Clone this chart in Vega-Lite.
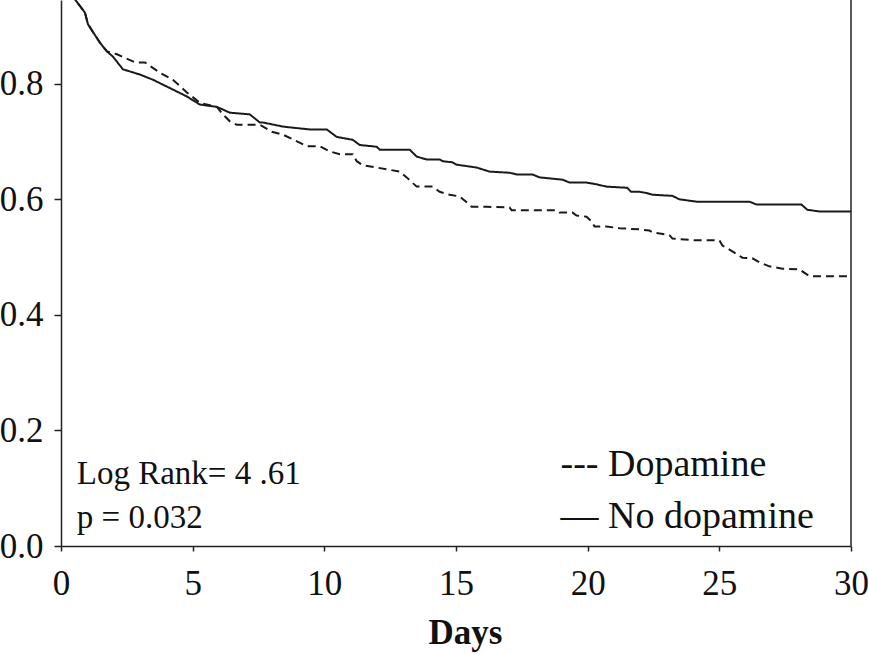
{
  "$schema": "https://vega.github.io/schema/vega-lite/v6.json",
  "autosize": "none",
  "width": 790,
  "height": 546,
  "padding": {"left": 61, "top": 0, "right": 18, "bottom": 108},
  "background": "white",
  "config": {
    "view": {"stroke": null},
    "font": "Liberation Serif"
  },
  "datasets": {
    "curves": [
      {"group": "No dopamine", "day": 0, "surv": 1.0},
      {"group": "No dopamine", "day": 0.531, "surv": 0.946},
      {"group": "No dopamine", "day": 0.911, "surv": 0.923},
      {"group": "No dopamine", "day": 1.024, "surv": 0.903},
      {"group": "No dopamine", "day": 1.48, "surv": 0.871},
      {"group": "No dopamine", "day": 1.745, "surv": 0.856},
      {"group": "No dopamine", "day": 1.973, "surv": 0.847},
      {"group": "No dopamine", "day": 2.352, "surv": 0.825},
      {"group": "No dopamine", "day": 2.997, "surv": 0.816},
      {"group": "No dopamine", "day": 3.491, "surv": 0.807},
      {"group": "No dopamine", "day": 4.249, "surv": 0.79},
      {"group": "No dopamine", "day": 4.78, "surv": 0.778},
      {"group": "No dopamine", "day": 5.274, "surv": 0.764},
      {"group": "No dopamine", "day": 5.919, "surv": 0.76},
      {"group": "No dopamine", "day": 6.412, "surv": 0.75},
      {"group": "No dopamine", "day": 7.171, "surv": 0.747},
      {"group": "No dopamine", "day": 7.551, "surv": 0.733},
      {"group": "No dopamine", "day": 7.664, "surv": 0.733},
      {"group": "No dopamine", "day": 8.423, "surv": 0.726},
      {"group": "No dopamine", "day": 8.802, "surv": 0.724},
      {"group": "No dopamine", "day": 9.447, "surv": 0.721},
      {"group": "No dopamine", "day": 10.092, "surv": 0.721},
      {"group": "No dopamine", "day": 10.472, "surv": 0.708},
      {"group": "No dopamine", "day": 11.079, "surv": 0.703},
      {"group": "No dopamine", "day": 11.344, "surv": 0.694},
      {"group": "No dopamine", "day": 11.989, "surv": 0.691},
      {"group": "No dopamine", "day": 12.103, "surv": 0.686},
      {"group": "No dopamine", "day": 13.241, "surv": 0.686},
      {"group": "No dopamine", "day": 13.507, "surv": 0.674},
      {"group": "No dopamine", "day": 13.886, "surv": 0.669},
      {"group": "No dopamine", "day": 14.379, "surv": 0.669},
      {"group": "No dopamine", "day": 14.493, "surv": 0.666},
      {"group": "No dopamine", "day": 14.873, "surv": 0.664},
      {"group": "No dopamine", "day": 15.024, "surv": 0.66},
      {"group": "No dopamine", "day": 15.783, "surv": 0.655},
      {"group": "No dopamine", "day": 16.276, "surv": 0.648},
      {"group": "No dopamine", "day": 17.035, "surv": 0.646},
      {"group": "No dopamine", "day": 17.301, "surv": 0.643},
      {"group": "No dopamine", "day": 17.908, "surv": 0.643},
      {"group": "No dopamine", "day": 18.173, "surv": 0.638},
      {"group": "No dopamine", "day": 19.046, "surv": 0.634},
      {"group": "No dopamine", "day": 19.312, "surv": 0.629},
      {"group": "No dopamine", "day": 19.957, "surv": 0.629},
      {"group": "No dopamine", "day": 20.336, "surv": 0.626},
      {"group": "No dopamine", "day": 20.716, "surv": 0.622},
      {"group": "No dopamine", "day": 21.5, "surv": 0.62},
      {"group": "No dopamine", "day": 21.65, "surv": 0.613},
      {"group": "No dopamine", "day": 21.968, "surv": 0.613},
      {"group": "No dopamine", "day": 22.233, "surv": 0.611},
      {"group": "No dopamine", "day": 22.461, "surv": 0.608},
      {"group": "No dopamine", "day": 23.22, "surv": 0.606},
      {"group": "No dopamine", "day": 23.485, "surv": 0.6},
      {"group": "No dopamine", "day": 24.13, "surv": 0.596},
      {"group": "No dopamine", "day": 26.141, "surv": 0.596},
      {"group": "No dopamine", "day": 26.407, "surv": 0.591},
      {"group": "No dopamine", "day": 28.114, "surv": 0.591},
      {"group": "No dopamine", "day": 28.342, "surv": 0.582},
      {"group": "No dopamine", "day": 28.797, "surv": 0.579},
      {"group": "No dopamine", "day": 30, "surv": 0.579},
      {"group": "Dopamine", "day": 0, "surv": 1.0},
      {"group": "Dopamine", "day": 0.531, "surv": 0.946},
      {"group": "Dopamine", "day": 0.911, "surv": 0.923},
      {"group": "Dopamine", "day": 1.024, "surv": 0.903},
      {"group": "Dopamine", "day": 1.48, "surv": 0.871},
      {"group": "Dopamine", "day": 1.745, "surv": 0.856},
      {"group": "Dopamine", "day": 2.125, "surv": 0.851},
      {"group": "Dopamine", "day": 2.808, "surv": 0.837},
      {"group": "Dopamine", "day": 3.187, "surv": 0.837},
      {"group": "Dopamine", "day": 3.756, "surv": 0.819},
      {"group": "Dopamine", "day": 4.249, "surv": 0.807},
      {"group": "Dopamine", "day": 4.78, "surv": 0.785},
      {"group": "Dopamine", "day": 5.274, "surv": 0.767},
      {"group": "Dopamine", "day": 5.919, "surv": 0.76},
      {"group": "Dopamine", "day": 6.146, "surv": 0.747},
      {"group": "Dopamine", "day": 6.412, "surv": 0.735},
      {"group": "Dopamine", "day": 6.678, "surv": 0.729},
      {"group": "Dopamine", "day": 7.551, "surv": 0.729},
      {"group": "Dopamine", "day": 8.005, "surv": 0.717},
      {"group": "Dopamine", "day": 8.423, "surv": 0.712},
      {"group": "Dopamine", "day": 8.802, "surv": 0.704},
      {"group": "Dopamine", "day": 9.333, "surv": 0.692},
      {"group": "Dopamine", "day": 9.826, "surv": 0.692},
      {"group": "Dopamine", "day": 10.206, "surv": 0.683},
      {"group": "Dopamine", "day": 10.585, "surv": 0.678},
      {"group": "Dopamine", "day": 11.079, "surv": 0.678},
      {"group": "Dopamine", "day": 11.23, "surv": 0.666},
      {"group": "Dopamine", "day": 11.458, "surv": 0.659},
      {"group": "Dopamine", "day": 11.989, "surv": 0.655},
      {"group": "Dopamine", "day": 12.369, "surv": 0.652},
      {"group": "Dopamine", "day": 12.862, "surv": 0.648},
      {"group": "Dopamine", "day": 13.127, "surv": 0.638},
      {"group": "Dopamine", "day": 13.507, "surv": 0.622},
      {"group": "Dopamine", "day": 14.114, "surv": 0.622},
      {"group": "Dopamine", "day": 14.379, "surv": 0.613},
      {"group": "Dopamine", "day": 14.759, "surv": 0.608},
      {"group": "Dopamine", "day": 15.138, "surv": 0.605},
      {"group": "Dopamine", "day": 15.404, "surv": 0.595},
      {"group": "Dopamine", "day": 15.593, "surv": 0.587},
      {"group": "Dopamine", "day": 16.163, "surv": 0.587},
      {"group": "Dopamine", "day": 17.035, "surv": 0.586},
      {"group": "Dopamine", "day": 17.111, "surv": 0.581},
      {"group": "Dopamine", "day": 18.818, "surv": 0.581},
      {"group": "Dopamine", "day": 18.932, "surv": 0.577},
      {"group": "Dopamine", "day": 19.425, "surv": 0.577},
      {"group": "Dopamine", "day": 19.577, "surv": 0.572},
      {"group": "Dopamine", "day": 19.957, "surv": 0.57},
      {"group": "Dopamine", "day": 20.146, "surv": 0.562},
      {"group": "Dopamine", "day": 20.26, "surv": 0.553},
      {"group": "Dopamine", "day": 20.716, "surv": 0.553},
      {"group": "Dopamine", "day": 21.209, "surv": 0.55},
      {"group": "Dopamine", "day": 21.968, "surv": 0.548},
      {"group": "Dopamine", "day": 22.347, "surv": 0.546},
      {"group": "Dopamine", "day": 22.461, "surv": 0.543},
      {"group": "Dopamine", "day": 23.106, "surv": 0.538},
      {"group": "Dopamine", "day": 23.22, "surv": 0.532},
      {"group": "Dopamine", "day": 24.13, "surv": 0.529},
      {"group": "Dopamine", "day": 25.002, "surv": 0.529},
      {"group": "Dopamine", "day": 25.116, "surv": 0.52},
      {"group": "Dopamine", "day": 25.496, "surv": 0.51},
      {"group": "Dopamine", "day": 25.875, "surv": 0.499},
      {"group": "Dopamine", "day": 26.255, "surv": 0.498},
      {"group": "Dopamine", "day": 26.52, "surv": 0.491},
      {"group": "Dopamine", "day": 26.9, "surv": 0.484},
      {"group": "Dopamine", "day": 27.393, "surv": 0.48},
      {"group": "Dopamine", "day": 28.038, "surv": 0.479},
      {"group": "Dopamine", "day": 28.417, "surv": 0.467},
      {"group": "Dopamine", "day": 30, "surv": 0.467}
    ],
    "stats": [
      {"day": 0.6, "surv": 0.107, "label": "Log Rank= 4 .61"},
      {"day": 0.6, "surv": 0.032, "label": "p = 0.032"}
    ],
    "key": [
      {"day": 18.97, "surv": 0.122, "label": "--- Dopamine"},
      {"day": 18.97, "surv": 0.032, "label": "— No dopamine"}
    ],
    "edge": [
      {"day": 30}
    ]
  },
  "layer": [
    {
      "data": {"name": "curves"},
      "mark": {"type": "line", "clip": true, "strokeWidth": 2, "color": "#1a1a1a"},
      "encoding": {
        "x": {
          "field": "day", "type": "quantitative",
          "scale": {"domain": [0, 30], "nice": false},
          "axis": {
            "values": [0, 5, 10, 15, 20, 25, 30],
            "title": "Days",
            "grid": false,
            "domainColor": "#222", "domainWidth": 1.5,
            "tickColor": "#222", "tickWidth": 1.5, "tickSize": 5,
            "labelFont": "Liberation Serif", "labelFontSize": 35, "labelColor": "#111",
            "labelPadding": 15, "labelFlush": false, "labelOverlap": false,
            "titleFont": "Liberation Serif", "titleFontSize": 35, "titleFontWeight": "bold",
            "titleColor": "#111", "titleBaseline": "alphabetic", "titleY": 97, "titleX": 404
          }
        },
        "y": {
          "field": "surv", "type": "quantitative",
          "scale": {"domain": [0, 0.945], "nice": false, "zero": true},
          "axis": {
            "values": [0, 0.2, 0.4, 0.6, 0.8],
            "format": ".1f",
            "title": null,
            "grid": false,
            "domainColor": "#222", "domainWidth": 1.5,
            "tickColor": "#222", "tickWidth": 1.5, "tickSize": 7,
            "labelFont": "Liberation Serif", "labelFontSize": 35, "labelColor": "#111",
            "labelPadding": 11, "labelFlush": false, "labelOverlap": false
          }
        },
        "strokeDash": {
          "field": "group", "type": "nominal",
          "scale": {"domain": ["Dopamine", "No dopamine"], "range": [[8, 5], [1, 0]]},
          "legend": null
        },
        "detail": {"field": "group"}
      }
    },
    {
      "data": {"name": "edge"},
      "mark": {"type": "rule", "color": "#222", "strokeWidth": 1.5},
      "encoding": {
        "x": {"field": "day", "type": "quantitative"}
      }
    },
    {
      "data": {"name": "stats"},
      "mark": {"type": "text", "align": "left", "baseline": "alphabetic", "font": "Liberation Serif", "fontSize": 33, "color": "#111"},
      "encoding": {
        "x": {"field": "day", "type": "quantitative"},
        "y": {"field": "surv", "type": "quantitative"},
        "text": {"field": "label"}
      }
    },
    {
      "data": {"name": "key"},
      "mark": {"type": "text", "align": "left", "baseline": "alphabetic", "font": "Liberation Serif", "fontSize": 38, "color": "#111"},
      "encoding": {
        "x": {"field": "day", "type": "quantitative"},
        "y": {"field": "surv", "type": "quantitative"},
        "text": {"field": "label"}
      }
    }
  ]
}
